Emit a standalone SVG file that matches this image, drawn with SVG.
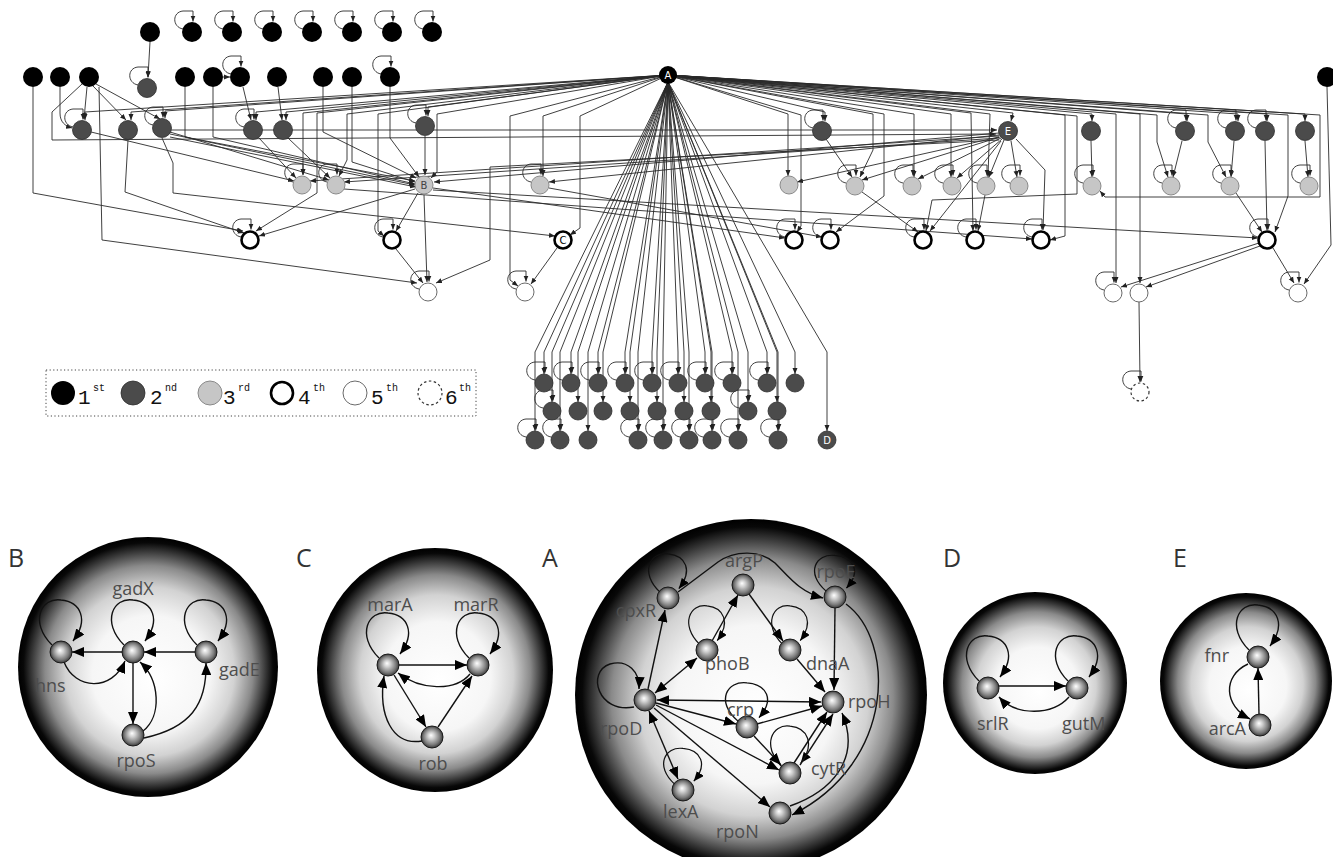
<svg xmlns="http://www.w3.org/2000/svg" width="1333" height="857" viewBox="0 0 1333 857">
<defs>
<style>
.ea{fill:none;stroke:#2a2a2a;stroke-width:0.9;marker-end:url(#ah)}
.n1{fill:#000}
.n2{fill:#4b4b4b;stroke:#2e2e2e;stroke-width:0.8}
.n3{fill:#c6c6c6;stroke:#8a8a8a;stroke-width:1}
.n4{fill:#fff;stroke:#000;stroke-width:2.6}
.n5{fill:#fff;stroke:#6a6a6a;stroke-width:1}
.n6{fill:#fff;stroke:#333;stroke-width:1.2;stroke-dasharray:2.5 2.5}
.nl{font-family:"DejaVu Sans",sans-serif;font-size:10px;text-anchor:middle}
.pe{fill:none;stroke:#111;stroke-width:1.4;marker-end:url(#pa)}
.pb{fill:none;stroke:#111;stroke-width:1.4;marker-end:url(#pa);marker-start:url(#pas)}
.sph{fill:url(#sph)}
.ball{fill:url(#ball);stroke:#1a1a1a;stroke-width:1}
.lab{font-family:"Open Sans","Liberation Sans",sans-serif;font-size:18px;fill:#4d4d4d}
.pl{font-family:"Open Sans","Liberation Sans",sans-serif;font-size:25px;fill:#333}
.lg{font-family:"Liberation Mono",monospace;font-size:21px;fill:#111}
.sup{font-family:"Liberation Mono",monospace;font-size:10px;fill:#111}
</style>
<marker id="ah" viewBox="0 0 6 6" refX="6" refY="3" markerWidth="6" markerHeight="6" markerUnits="userSpaceOnUse" orient="auto"><path d="M0,0.5 L6,3 L0,5.5 z" fill="#222"/></marker>
<marker id="pa" viewBox="0 0 12 10" refX="12" refY="5" markerWidth="12" markerHeight="10" markerUnits="userSpaceOnUse" orient="auto"><path d="M0,0 L12,5 L0,10 z" fill="#000"/></marker>
<marker id="pas" viewBox="0 0 12 10" refX="12" refY="5" markerWidth="12" markerHeight="10" markerUnits="userSpaceOnUse" orient="auto-start-reverse"><path d="M0,0 L12,5 L0,10 z" fill="#000"/></marker>
<radialGradient id="sph" cx="0.5" cy="0.5" r="0.5" fx="0.52" fy="0.55">
<stop offset="0" stop-color="#fff"/><stop offset="0.45" stop-color="#f6f6f6"/><stop offset="0.65" stop-color="#d2d2d2"/><stop offset="0.8" stop-color="#8a8a8a"/><stop offset="0.9" stop-color="#383838"/><stop offset="0.96" stop-color="#080808"/><stop offset="1" stop-color="#000"/>
</radialGradient>
<radialGradient id="ball" cx="0.5" cy="0.5" r="0.5" fx="0.45" fy="0.42">
<stop offset="0" stop-color="#fff"/><stop offset="0.3" stop-color="#cfcfcf"/><stop offset="0.75" stop-color="#7a7a7a"/><stop offset="1" stop-color="#3a3a3a"/>
</radialGradient>
<path id="sl" class="ea" d="M-9,-3 C-20,-5 -20,-20 -9,-21 L1,-21 L1,-10.5"/>
<path id="ploop" class="pe" d="M-9,-7 C-32,-30 -20,-55 0,-52 C20,-50 28,-32 12,-11"/>
</defs>
<rect width="1333" height="857" fill="#fff"/>

<!-- connectors of the hierarchy -->
<g id="edges">
<!-- fan from A to upper nodes -->
<path class="ea" d="M668,75 L85,112 L85,120"/>
<path class="ea" d="M668,75 L131,112 L131,120"/>
<path class="ea" d="M668,75 L165,111 L165,118"/>
<path class="ea" d="M668,75 L256,112 L256,120"/>
<path class="ea" d="M668,75 L286,112 L286,120"/>
<path class="ea" d="M668,75 L428,107 L428,116"/>
<path class="ea" d="M668,75 L303,113 L303,175"/>
<path class="ea" d="M668,75 L317,113 L317,193 L256,231"/>
<path class="ea" d="M668,75 L347,114 L347,160 L339,176"/>
<path class="ea" d="M668,75 L378,114 L378,231 L384,236"/>
<path class="ea" d="M668,75 L437,114 L437,172 L431,178"/>
<path class="ea" d="M668,75 L510,116 L510,280 L518,286"/>
<path class="ea" d="M668,75 L543,116 L543,176"/>
<path class="ea" d="M668,75 L580,116 L580,228 L570,235"/>
<path class="ea" d="M668,75 L788,114 L788,176"/>
<path class="ea" d="M668,75 L801,115 L801,226 L797,232"/>
<path class="ea" d="M668,75 L825,112 L825,121"/>
<path class="ea" d="M668,75 L873,114 L873,150 L860,177"/>
<path class="ea" d="M668,75 L884,114 L884,196 L836,232"/>
<path class="ea" d="M668,75 L914,114 L914,177"/>
<path class="ea" d="M668,75 L951,114 L951,177"/>
<path class="ea" d="M668,75 L971,113 L973,231"/>
<path class="ea" d="M668,75 L990,114 L988,177"/>
<path class="ea" d="M668,75 L1013,113 L1011,121"/>
<path class="ea" d="M668,75 L1065,115 L1065,236 L1050,240"/>
<path class="ea" d="M668,75 L1077,116 L1077,194 L932,200 L926,231"/>
<path class="ea" d="M668,75 L1092,114 L1092,121"/>
<path class="ea" d="M668,75 L1116,114 L1116,283"/>
<path class="ea" d="M668,75 L1140,114 L1140,283"/>
<path class="ea" d="M668,75 L1157,115 L1157,142 L1168,177"/>
<path class="ea" d="M668,75 L1187,114 L1187,121"/>
<path class="ea" d="M668,75 L1208,115 L1208,142 L1226,177"/>
<path class="ea" d="M668,75 L1238,114 L1238,121"/>
<path class="ea" d="M668,75 L1267,114 L1267,121"/>
<path class="ea" d="M668,75 L1288,115 L1288,196 L1275,232"/>
<path class="ea" d="M668,75 L1305,114 L1305,121"/>
<path class="ea" d="M668,75 L1320,115 L1320,197 L1105,197 L1100,191"/>
<!-- fan from A to the lower cluster -->
<path class="ea" d="M668,82 L544,352 L544,374"/>
<path class="ea" d="M668,82 L571,352 L571,374"/>
<path class="ea" d="M668,82 L598,352 L598,374"/>
<path class="ea" d="M668,82 L625,352 L625,374"/>
<path class="ea" d="M668,82 L652,352 L652,374"/>
<path class="ea" d="M668,82 L678,352 L678,374"/>
<path class="ea" d="M668,82 L705,352 L705,374"/>
<path class="ea" d="M668,82 L732,352 L732,374"/>
<path class="ea" d="M668,82 L767,352 L767,374"/>
<path class="ea" d="M668,82 L795,352 L795,374"/>
<path class="ea" d="M668,82 L552,352 L552,402"/>
<path class="ea" d="M668,82 L578,352 L578,402"/>
<path class="ea" d="M668,82 L603,352 L603,402"/>
<path class="ea" d="M668,82 L630,352 L630,402"/>
<path class="ea" d="M668,82 L657,352 L657,402"/>
<path class="ea" d="M668,82 L684,352 L684,402"/>
<path class="ea" d="M668,82 L711,352 L711,402"/>
<path class="ea" d="M668,82 L748,352 L748,402"/>
<path class="ea" d="M668,82 L777,352 L777,402"/>
<path class="ea" d="M668,82 L535,352 L535,431"/>
<path class="ea" d="M668,82 L560,352 L560,431"/>
<path class="ea" d="M668,82 L588,352 L588,431"/>
<path class="ea" d="M668,82 L638,352 L638,431"/>
<path class="ea" d="M668,82 L663,352 L663,431"/>
<path class="ea" d="M668,82 L689,352 L689,431"/>
<path class="ea" d="M668,82 L712,352 L712,431"/>
<path class="ea" d="M668,82 L738,352 L738,431"/>
<path class="ea" d="M668,82 L778,352 L778,431"/>
<path class="ea" d="M668,82 L827,352 L827,431"/>
<!-- remaining regulations, left part -->
<path class="ea" d="M150,42 L148,77"/>
<path class="ea" d="M33,87 L33,193 L243,231"/>
<path class="ea" d="M60,87 L60,113 C60,122 65,126 72,128"/>
<path class="ea" d="M87,87 L84,119"/>
<path class="ea" d="M93,86 L126,120"/>
<path class="ea" d="M96,84 L160,119"/>
<path class="ea" d="M82,84 L52,112 L52,140 L996,134"/>
<path class="ea" d="M99,87 L102,240 L417,283"/>
<path class="ea" d="M185,87 L185,137 L415,181"/>
<path class="ea" d="M213,87 L213,137 L415,184"/>
<path class="ea" d="M223,77 L230,77"/>
<path class="ea" d="M243,87 L251,120"/>
<path class="ea" d="M278,87 L282,120"/>
<path class="ea" d="M323,87 L323,132 L416,178"/>
<path class="ea" d="M352,87 L352,162 L415,182"/>
<path class="ea" d="M390,87 L390,138 L419,177"/>
<path class="ea" d="M128,140 L125,192 L244,233"/>
<path class="ea" d="M162,138 L173,163 L173,193 L555,236"/>
<path class="ea" d="M170,134 L415,185"/>
<path class="ea" d="M170,137 L416,187"/>
<path class="ea" d="M170,132 L329,180"/>
<path class="ea" d="M171,130 L997,130"/>
<path class="ea" d="M91,132 L294,181"/>
<path class="ea" d="M259,138 L296,178"/>
<path class="ea" d="M288,138 L330,178"/>
<path class="ea" d="M425,136 L425,175"/>
<path class="ea" d="M418,193 L396,231"/>
<path class="ea" d="M415,189 L259,236"/>
<path class="ea" d="M424,195 L427,282"/>
<path class="ea" d="M433,188 L785,238"/>
<path class="ea" d="M433,190 L1258,238"/>
<path class="ea" d="M344,189 L1032,239"/>
<path class="ea" d="M396,249 L423,283"/>
<path class="ea" d="M557,248 L531,284"/>
<!-- middle and right part -->
<path class="ea" d="M826,139 L852,177"/>
<path class="ea" d="M999,133 L434,182"/>
<path class="ea" d="M999,135 L549,182"/>
<path class="ea" d="M999,137 L797,182"/>
<path class="ea" d="M999,136 L310,181"/>
<path class="ea" d="M999,138 L344,182"/>
<path class="ea" d="M999,140 L490,167 L490,260 L436,283"/>
<path class="ea" d="M1000,137 L862,180"/>
<path class="ea" d="M1001,138 L918,179"/>
<path class="ea" d="M1002,139 L957,178"/>
<path class="ea" d="M1004,140 L989,177"/>
<path class="ea" d="M1011,141 L1017,177"/>
<path class="ea" d="M1016,139 L1045,170 L1043,230"/>
<path class="ea" d="M1001,141 L930,231"/>
<path class="ea" d="M549,188 L822,237"/>
<path class="ea" d="M862,192 L918,232"/>
<path class="ea" d="M985,195 L978,231"/>
<path class="ea" d="M1091,141 L1092,177"/>
<path class="ea" d="M1182,141 L1173,177"/>
<path class="ea" d="M1234,141 L1231,177"/>
<path class="ea" d="M1265,141 L1267,230"/>
<path class="ea" d="M1305,141 L1308,177"/>
<path class="ea" d="M1236,193 L1262,232"/>
<path class="ea" d="M1327,87 L1331,245 L1304,284"/>
<path class="ea" d="M1259,243 L1121,287"/>
<path class="ea" d="M1260,246 L1146,287"/>
<path class="ea" d="M1273,248 L1294,283"/>
<path class="ea" d="M1139,302 L1140,382"/>
<!-- self regulation -->
<use href="#sl" x="192" y="32"/><use href="#sl" x="232" y="32"/><use href="#sl" x="272" y="32"/><use href="#sl" x="312" y="32"/><use href="#sl" x="352" y="32"/><use href="#sl" x="392" y="32"/><use href="#sl" x="432" y="32"/>
<use href="#sl" x="240" y="77"/><use href="#sl" x="390" y="77"/><use href="#sl" x="147" y="88"/>
<use href="#sl" x="82" y="130"/><use href="#sl" x="162" y="128"/><use href="#sl" x="253" y="130"/><use href="#sl" x="425" y="126"/><use href="#sl" x="822" y="131"/><use href="#sl" x="1185" y="131"/><use href="#sl" x="1235" y="131"/><use href="#sl" x="1265" y="131"/>
<use href="#sl" x="302" y="185"/><use href="#sl" x="336" y="185"/><use href="#sl" x="540" y="185"/><use href="#sl" x="855" y="186"/><use href="#sl" x="912" y="186"/><use href="#sl" x="952" y="186"/><use href="#sl" x="986" y="186"/><use href="#sl" x="1019" y="186"/><use href="#sl" x="1092" y="186"/><use href="#sl" x="1171" y="186"/><use href="#sl" x="1230" y="186"/><use href="#sl" x="1309" y="186"/>
<use href="#sl" x="250" y="240"/><use href="#sl" x="392" y="240"/><use href="#sl" x="794" y="240"/><use href="#sl" x="830" y="240"/><use href="#sl" x="923" y="240"/><use href="#sl" x="975" y="240"/><use href="#sl" x="1041" y="240"/><use href="#sl" x="1267" y="240"/>
<use href="#sl" x="428" y="292"/><use href="#sl" x="525" y="292"/><use href="#sl" x="1113" y="293"/><use href="#sl" x="1298" y="293"/><use href="#sl" x="1140" y="392"/>
<use href="#sl" x="544" y="383"/><use href="#sl" x="571" y="383"/><use href="#sl" x="598" y="383"/><use href="#sl" x="625" y="383"/><use href="#sl" x="652" y="383"/><use href="#sl" x="678" y="383"/><use href="#sl" x="705" y="383"/><use href="#sl" x="732" y="383"/><use href="#sl" x="767" y="383"/>
<use href="#sl" x="552" y="411"/><use href="#sl" x="748" y="411"/>
<use href="#sl" x="535" y="440"/><use href="#sl" x="560" y="440"/><use href="#sl" x="638" y="440"/><use href="#sl" x="663" y="440"/><use href="#sl" x="689" y="440"/><use href="#sl" x="712" y="440"/><use href="#sl" x="738" y="440"/><use href="#sl" x="778" y="440"/>
</g>

<!-- first level -->
<g id="level1" class="n1">
<g id="t0"><circle cx="150" cy="32" r="10"/></g>
<g id="t1"><circle cx="192" cy="32" r="10"/></g>
<g id="t2"><circle cx="232" cy="32" r="10"/></g>
<g id="t3"><circle cx="272" cy="32" r="10"/></g>
<g id="t4"><circle cx="312" cy="32" r="10"/></g>
<g id="t5"><circle cx="352" cy="32" r="10"/></g>
<g id="t6"><circle cx="392" cy="32" r="10"/></g>
<g id="t7"><circle cx="432" cy="32" r="10"/></g>
<g id="u0"><circle cx="33" cy="77" r="10"/></g>
<g id="u1"><circle cx="60" cy="77" r="10"/></g>
<g id="u2"><circle cx="89" cy="77" r="10"/></g>
<g id="u3"><circle cx="185" cy="77" r="10"/></g>
<g id="u4"><circle cx="213" cy="77" r="10"/></g>
<g id="u5"><circle cx="240" cy="77" r="10"/></g>
<g id="u6"><circle cx="277" cy="77" r="10"/></g>
<g id="u7"><circle cx="323" cy="77" r="10"/></g>
<g id="u8"><circle cx="352" cy="77" r="10"/></g>
<g id="u9"><circle cx="390" cy="77" r="10"/></g>
<g id="u10"><circle cx="1327" cy="77" r="10"/></g>
<g id="nodeA"><circle cx="668" cy="75" r="9"/><text class="nl" x="668" y="79" fill="#fff">A</text></g>
</g>

<!-- second level -->
<g id="level2" class="n2">
<g id="v0"><circle cx="147" cy="88" r="9.5"/></g>
<g id="v1"><circle cx="82" cy="130" r="9.5"/></g>
<g id="v2"><circle cx="128" cy="130" r="9.5"/></g>
<g id="v3"><circle cx="162" cy="128" r="9.5"/></g>
<g id="v4"><circle cx="253" cy="130" r="9.5"/></g>
<g id="v5"><circle cx="283" cy="130" r="9.5"/></g>
<g id="v6"><circle cx="425" cy="126" r="9.5"/></g>
<g id="v7"><circle cx="822" cy="131" r="9.5"/></g>
<g id="nodeE"><circle cx="1008" cy="131" r="9.5"/><text class="nl" x="1008" y="135" fill="#fff" stroke="none">E</text></g>
<g id="v8"><circle cx="1091" cy="131" r="9.5"/></g>
<g id="v9"><circle cx="1185" cy="131" r="9.5"/></g>
<g id="v10"><circle cx="1235" cy="131" r="9.5"/></g>
<g id="v11"><circle cx="1265" cy="131" r="9.5"/></g>
<g id="v12"><circle cx="1305" cy="131" r="9.5"/></g>
</g>

<!-- lower cluster of second level -->
<g id="cluster" class="n2">
<g id="w1"><circle cx="544" cy="383" r="9"/><circle cx="571" cy="383" r="9"/><circle cx="598" cy="383" r="9"/><circle cx="625" cy="383" r="9"/><circle cx="652" cy="383" r="9"/><circle cx="678" cy="383" r="9"/><circle cx="705" cy="383" r="9"/><circle cx="732" cy="383" r="9"/><circle cx="767" cy="383" r="9"/><circle cx="795" cy="383" r="9"/></g>
<g id="w2"><circle cx="552" cy="411" r="9"/><circle cx="578" cy="411" r="9"/><circle cx="603" cy="411" r="9"/><circle cx="630" cy="411" r="9"/><circle cx="657" cy="411" r="9"/><circle cx="684" cy="411" r="9"/><circle cx="711" cy="411" r="9"/><circle cx="748" cy="411" r="9"/><circle cx="777" cy="411" r="9"/></g>
<g id="w3"><circle cx="535" cy="440" r="9"/><circle cx="560" cy="440" r="9"/><circle cx="588" cy="440" r="9"/><circle cx="638" cy="440" r="9"/><circle cx="663" cy="440" r="9"/><circle cx="689" cy="440" r="9"/><circle cx="712" cy="440" r="9"/><circle cx="738" cy="440" r="9"/><circle cx="778" cy="440" r="9"/></g>
<g id="nodeD"><circle cx="827" cy="440" r="9"/><text class="nl" x="827" y="444" fill="#fff" stroke="none">D</text></g>
</g>

<!-- third level -->
<g id="level3" class="n3">
<g id="x0"><circle cx="302" cy="185" r="9"/></g>
<g id="x1"><circle cx="336" cy="185" r="9"/></g>
<g id="nodeB"><circle cx="424" cy="185" r="9"/><text class="nl" x="424" y="189" fill="#444" stroke="none">B</text></g>
<g id="x2"><circle cx="540" cy="185" r="9"/></g>
<g id="x3"><circle cx="789" cy="185" r="9"/></g>
<g id="x4"><circle cx="855" cy="186" r="9"/></g>
<g id="x5"><circle cx="912" cy="186" r="9"/></g>
<g id="x6"><circle cx="952" cy="186" r="9"/></g>
<g id="x7"><circle cx="986" cy="186" r="9"/></g>
<g id="x8"><circle cx="1019" cy="186" r="9"/></g>
<g id="x9"><circle cx="1092" cy="186" r="9"/></g>
<g id="x10"><circle cx="1171" cy="186" r="9"/></g>
<g id="x11"><circle cx="1230" cy="186" r="9"/></g>
<g id="x12"><circle cx="1309" cy="186" r="9"/></g>
</g>

<!-- fourth level -->
<g id="level4" class="n4">
<g id="y0"><circle cx="250" cy="240" r="8.5"/></g>
<g id="y1"><circle cx="392" cy="240" r="8.5"/></g>
<g id="nodeC"><circle cx="563" cy="240" r="8.5"/><text class="nl" x="563" y="244" fill="#000" stroke="none">C</text></g>
<g id="y2"><circle cx="794" cy="240" r="8.5"/></g>
<g id="y3"><circle cx="830" cy="240" r="8.5"/></g>
<g id="y4"><circle cx="923" cy="240" r="8.5"/></g>
<g id="y5"><circle cx="975" cy="240" r="8.5"/></g>
<g id="y6"><circle cx="1041" cy="240" r="8.5"/></g>
<g id="y7"><circle cx="1267" cy="240" r="8.5"/></g>
</g>

<!-- fifth and sixth level -->
<g id="level5" class="n5">
<g id="z0"><circle cx="428" cy="292" r="9"/></g>
<g id="z1"><circle cx="525" cy="292" r="9"/></g>
<g id="z2"><circle cx="1113" cy="293" r="9"/></g>
<g id="z3"><circle cx="1139" cy="293" r="9"/></g>
<g id="z4"><circle cx="1298" cy="293" r="9"/></g>
</g>
<g id="level6"><circle class="n6" cx="1140" cy="392" r="9"/></g>

<!-- legend -->
<g id="legend">
<rect x="46" y="370" width="430" height="46" fill="none" stroke="#444" stroke-width="1" stroke-dasharray="1.2 2.4"/>
<circle class="n1" cx="63" cy="393" r="12"/>
<text class="lg" x="78" y="404">1</text><text class="sup" x="93" y="391">st</text>
<circle class="n2" cx="133" cy="393" r="12"/>
<text class="lg" x="150" y="404">2</text><text class="sup" x="165" y="391">nd</text>
<circle class="n3" cx="210" cy="393" r="12"/>
<text class="lg" x="223" y="404">3</text><text class="sup" x="238" y="391">rd</text>
<circle class="n4" cx="282" cy="393" r="11"/>
<text class="lg" x="298" y="404">4</text><text class="sup" x="313" y="391">th</text>
<circle class="n5" cx="355" cy="393" r="12"/>
<text class="lg" x="371" y="404">5</text><text class="sup" x="386" y="391">th</text>
<circle class="n6" cx="430" cy="393" r="12"/>
<text class="lg" x="445" y="404">6</text><text class="sup" x="459" y="391">th</text>
</g>

<!-- panel B -->
<g id="panelB">
<text class="pl" x="8" y="567">B</text>
<circle class="sph" cx="148" cy="667" r="130"/>
<g id="panelB-edges">
<use href="#ploop" transform="translate(61,652)"/>
<use href="#ploop" transform="translate(133,652)"/>
<use href="#ploop" transform="translate(206,652)"/>
<path class="pe" d="M122,652 L72,652"/>
<path class="pe" d="M195,652 L144,652"/>
<path class="pe" d="M133,663 L133,724"/>
<path class="pe" d="M64,662 C75,690 112,692 125,661"/>
<path class="pe" d="M143,731 C162,716 160,680 140,662"/>
<path class="pe" d="M144,738 C190,728 207,705 206,663"/>
</g>
<g id="hns"><circle class="ball" cx="61" cy="652" r="11"/><text class="lab" x="35" y="692">hns</text></g>
<g id="gadX"><circle class="ball" cx="133" cy="652" r="11"/><text class="lab" x="133" y="595" text-anchor="middle">gadX</text></g>
<g id="gadE"><circle class="ball" cx="206" cy="652" r="11"/><text class="lab" x="219" y="676">gadE</text></g>
<g id="rpoS"><circle class="ball" cx="133" cy="735" r="11"/><text class="lab" x="136" y="767" text-anchor="middle">rpoS</text></g>
</g>

<!-- panel C -->
<g id="panelC">
<text class="pl" x="296" y="567">C</text>
<ellipse class="sph" cx="435" cy="670" rx="118" ry="122"/>
<g id="panelC-edges">
<use href="#ploop" transform="translate(388,665)"/>
<use href="#ploop" transform="translate(478,665)"/>
<path class="pe" d="M399,665 L467,665"/>
<path class="pe" d="M470,674 C455,692 420,690 398,673"/>
<path class="pe" d="M394,675 L426,727"/>
<path class="pe" d="M422,741 C392,746 378,715 384,676"/>
<path class="pe" d="M438,727 L472,676"/>
</g>
<g id="marA"><circle class="ball" cx="388" cy="665" r="11"/><text class="lab" x="390" y="611" text-anchor="middle">marA</text></g>
<g id="marR"><circle class="ball" cx="478" cy="665" r="11"/><text class="lab" x="476" y="611" text-anchor="middle">marR</text></g>
<g id="rob"><circle class="ball" cx="432" cy="737" r="11"/><text class="lab" x="433" y="770" text-anchor="middle">rob</text></g>
</g>

<!-- panel A -->
<g id="panelA">
<text class="pl" x="542" y="567">A</text>
<circle class="sph" cx="751" cy="695" r="176"/>
<g id="panelA-edges">
<use href="#ploop" transform="translate(668,598) scale(0.9,0.85)"/>
<use href="#ploop" transform="translate(835,597) scale(0.95,0.8)"/>
<use href="#ploop" transform="translate(707,650) scale(0.85)"/>
<use href="#ploop" transform="translate(790,650) scale(0.85)"/>
<use href="#ploop" transform="translate(747,727) scale(1,0.85)"/>
<use href="#ploop" transform="translate(790,773) scale(0.9)"/>
<use href="#ploop" transform="translate(683,790) scale(0.9,0.8)"/>
<path class="pe" d="M634,707 C598,714 586,672 610,664 C628,659 640,672 639,689"/>
<path class="pe" d="M648,689 L665,610"/>
<path class="pb" d="M655,693 L697,658"/>
<path class="pe" d="M712,641 L738,595"/>
<path class="pe" d="M749,594 L783,641"/>
<path class="pe" d="M797,659 L825,692"/>
<path class="pe" d="M835,608 L834,690"/>
<path class="pb" d="M657,700 L821,702"/>
<path class="pe" d="M656,703 L736,724"/>
<path class="pe" d="M757,724 L822,706"/>
<path class="pe" d="M754,736 L781,765"/>
<path class="pe" d="M656,705 L779,770"/>
<path class="pe" d="M794,763 L827,712"/>
<path class="pe" d="M800,765 L833,714"/>
<path class="pe" d="M654,708 L770,807"/>
<path class="pb" d="M649,711 L678,779"/>
<path class="pe" d="M678,592 L718,562 C735,550 760,550 775,563 C790,578 800,592 823,598"/>
<path class="pe" d="M846,604 C895,640 897,762 792,815"/>
<path class="pe" d="M790,806 C830,792 862,760 842,713"/>
</g>
<g id="cpxR"><circle class="ball" cx="668" cy="598" r="11"/><text class="lab" x="656" y="617" text-anchor="end">cpxR</text></g>
<g id="argP"><circle class="ball" cx="743" cy="585" r="11"/><text class="lab" x="744" y="567" text-anchor="middle">argP</text></g>
<g id="rpoE"><circle class="ball" cx="835" cy="597" r="11"/><text class="lab" x="836" y="578" text-anchor="middle">rpoE</text></g>
<g id="phoB"><circle class="ball" cx="707" cy="650" r="11"/><text class="lab" x="705" y="670">phoB</text></g>
<g id="dnaA"><circle class="ball" cx="790" cy="650" r="11"/><text class="lab" x="806" y="670">dnaA</text></g>
<g id="rpoD"><circle class="ball" cx="645" cy="700" r="11"/><text class="lab" x="600" y="735">rpoD</text></g>
<g id="rpoH"><circle class="ball" cx="833" cy="702" r="11"/><text class="lab" x="848" y="708">rpoH</text></g>
<g id="crp"><circle class="ball" cx="747" cy="727" r="11"/><text class="lab" x="727" y="716">crp</text></g>
<g id="cytR"><circle class="ball" cx="790" cy="773" r="11"/><text class="lab" x="811" y="775">cytR</text></g>
<g id="lexA"><circle class="ball" cx="683" cy="790" r="11"/><text class="lab" x="663" y="818">lexA</text></g>
<g id="rpoN"><circle class="ball" cx="780" cy="813" r="11"/><text class="lab" x="716" y="838">rpoN</text></g>
</g>

<!-- panel D -->
<g id="panelD">
<text class="pl" x="943" y="567">D</text>
<ellipse class="sph" cx="1035" cy="683" rx="92" ry="91"/>
<g id="panelD-edges">
<use href="#ploop" transform="translate(988,688)"/>
<use href="#ploop" transform="translate(1077,688)"/>
<path class="pe" d="M999,686 L1066,686"/>
<path class="pe" d="M1069,697 C1052,716 1016,716 999,697"/>
</g>
<g id="srlR"><circle class="ball" cx="988" cy="688" r="11"/><text class="lab" x="977" y="730">srlR</text></g>
<g id="gutM"><circle class="ball" cx="1077" cy="688" r="11"/><text class="lab" x="1062" y="730">gutM</text></g>
</g>

<!-- panel E -->
<g id="panelE">
<text class="pl" x="1173" y="567">E</text>
<ellipse class="sph" cx="1246" cy="681" rx="86" ry="88"/>
<g id="panelE-edges">
<use href="#ploop" transform="translate(1258,657)"/>
<path class="pe" d="M1259,714 L1258,668"/>
<path class="pe" d="M1248,664 C1222,676 1224,706 1250,719"/>
</g>
<g id="fnr"><circle class="ball" cx="1258" cy="657" r="11"/><text class="lab" x="1229" y="662" text-anchor="end">fnr</text></g>
<g id="arcA"><circle class="ball" cx="1260" cy="725" r="11"/><text class="lab" x="1246" y="735" text-anchor="end">arcA</text></g>
</g>
</svg>
